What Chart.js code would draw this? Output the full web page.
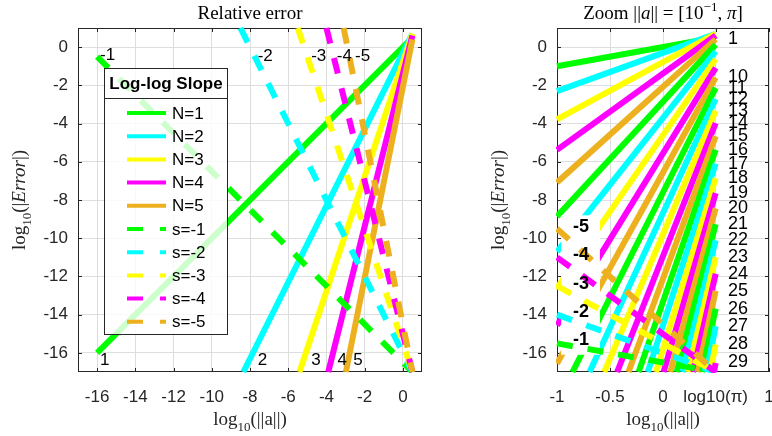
<!DOCTYPE html>
<html><head><meta charset="utf-8">
<script src="https://cdn.jsdelivr.net/npm/chart.js@4.4.1/dist/chart.umd.min.js"></script>
<style>
html,body{margin:0;padding:0;background:#fff;}
#wrap{position:relative;width:772px;height:436px;overflow:hidden;background:#fff;}
#c1{position:absolute;left:0;top:0;}
#c2{position:absolute;left:440px;top:0;}
</style></head><body>
<div id="wrap"><canvas id="c1" width="440" height="436"></canvas><canvas id="c2" width="332" height="436"></canvas></div>
<script>
// ---------------- DATA ----------------
const seriesColors = ['#00ff00', '#00ffff', '#ffff00', '#ff00ff', '#edb120'];
const LOGPI = 0.4971;

// Left panel: axis ticks
const leftXTicks = [-16, -14, -12, -10, -8, -6, -4, -2, 0];
const yTicks = [-16, -14, -12, -10, -8, -6, -4, -2, 0];

// Left panel: solid lines (slope N), endpoints
const leftN = [1, 2, 3, 4, 5];
const leftSolidX0 = [-16, -8.35, -5.41, -3.905, -2.984];
const leftSolidY0 = [-16, -17, -17, -17, -17];
const leftSolidX1 = [0.497, 0.497, 0.497, 0.497, 0.497];
const leftSolidY1 = [0.497, 0.693, 0.713, 0.608, 0.406];

// Left panel: dashed lines (slope s)
const leftS = [-1, -2, -3, -4, -5];
const leftDashX0 = [-16, -8.5, -5.5, -4.0, -3.1];
const leftDashY0 = [-0.5, 1, 1, 1, 1];
const leftDashX1 = [0.497, 0.497, 0.497, 0.497, 0.497];
const leftDashY1 = [-17, -17, -17, -17, -17];

// Left panel annotations
const leftTopLabels = ['-1', '-2', '-3', '-4', '-5'];
const leftTopX = [-15.85, -7.6, -4.8, -3.46, -2.5];
const leftTopY = [-0.42, -0.5, -0.5, -0.5, -0.5];
const leftBotLabels = ['1', '2', '3', '4', '5'];
const leftBotX = [-15.85, -7.6, -4.8, -3.42, -2.6];
const leftBotY = [-16.4, -16.4, -16.4, -16.4, -16.4];

// Right panel: axis ticks
const rightXTicks = [-1, -0.5, 0, LOGPI, 1];
const rightXTickLabels = ['-1', '-0.5', '0', 'log10(\u03c0)', '1'];

// Right panel: solid lines N = 1..29
const rightN = [1,2,3,4,5,6,7,8,9,10,11,12,13,14,15,16,17,18,19,20,21,22,23,24,25,26,27,28,29];
const rightX0 = [-1,-1,-1,-1,-1,-1,-1,-1,-1,-1,-0.854,-0.693,-0.554,-0.433,-0.326,-0.230,-0.144,-0.066,0.005,0.069,0.129,0.184,0.235,0.283,0.328,0.369,0.409,0.446,0.481];
const rightY0 = [-1,-2.30,-3.78,-5.38,-7.08,-8.86,-10.70,-12.61,-14.56,-16.56,-17,-17,-17,-17,-17,-17,-17,-17,-17,-17,-17,-17,-17,-17,-17,-17,-17,-17,-17];
const rightX1 = 0.497;
const rightY1 = [0.50,0.69,0.71,0.61,0.41,0.13,-0.22,-0.63,-1.09,-1.59,-2.13,-2.72,-3.33,-3.98,-4.66,-5.37,-6.10,-6.86,-7.64,-8.44,-9.27,-10.11,-10.98,-11.86,-12.76,-13.68,-14.61,-15.56,-16.53];

// Right panel: dashed lines s = -1..-5
const rightS = [-1, -2, -3, -4, -5];
const rightDashX0 = [-1, -1, -1, -1, -1];
const rightDashY0 = [-15.5, -14.0, -12.5, -11.0, -9.5];
const rightDashX1 = [0.497, 0.497, 0.497, 0.497, 0.497];
const rightDashY1 = [-17, -17, -17, -17, -17];

// Right panel annotations
const rightEndLabels = ['1','10','11','12','13','14','15','16','17','18','19','20','21','22','23','24','25','26','27','28','29'];
const rightEndLabelY = [0.4,-1.59,-2.13,-2.72,-3.33,-3.98,-4.66,-5.37,-6.10,-6.86,-7.64,-8.44,-9.27,-10.11,-10.98,-11.86,-12.76,-13.68,-14.61,-15.56,-16.48];
const rightEndLabelX = 0.613;
const rightSlopeLabels = ['-5', '-4', '-3', '-2', '-1'];
const rightSlopeLabelX = -0.85;
const rightSlopeLabelY = [-9.4, -10.9, -12.4, -13.85, -15.35];
const rightMaskX = [-0.96, -0.595];
const rightMaskY = [-8.8, -16.1];

// ---------------- STYLE / HELPERS ----------------
const AX = '#262626';
const GRID = '#dedede';
const SANS = '"Liberation Sans", Arial, sans-serif';
const SERIF = '"Liberation Serif", "Times New Roman", serif';
const LW = 6;
const DASH = [16, 15];

function seg(x0, y0, x1, y1) { return [{x: x0, y: y0}, {x: x1, y: y1}]; }

function buildDatasets(list) {
  const n = list.length;
  return list.map((d, i) => Object.assign({
    showLine: true, pointRadius: 0, pointHoverRadius: 0, borderWidth: LW,
    fill: false, tension: 0, clip: 1, order: n - i
  }, d));
}

function drawRich(ctx, segs, x, y, size, rot, color) {
  ctx.save();
  ctx.translate(x, y);
  if (rot) ctx.rotate(-Math.PI / 2);
  const parts = segs.map(s => {
    const small = s.sub || s.sup;
    const sz = small ? Math.round(size * 0.7) : size;
    const font = (s.it ? 'italic ' : '') + sz + 'px ' + SERIF;
    ctx.font = font;
    return {t: s.t, font, w: ctx.measureText(s.t).width, dy: s.sub ? size * 0.3 : (s.sup ? -size * 0.42 : 0)};
  });
  const total = parts.reduce((a, p) => a + p.w, 0);
  let cx = -total / 2;
  ctx.fillStyle = color || '#000';
  ctx.textBaseline = 'alphabetic';
  ctx.textAlign = 'left';
  parts.forEach(p => { ctx.font = p.font; ctx.fillText(p.t, cx, p.dy); cx += p.w; });
  ctx.restore();
}

function boxPlugin(xt, yt) {
  return {
    id: 'box',
    beforeDatasetsDraw(chart) {
      const {ctx, chartArea: a, scales} = chart;
      ctx.save();
      ctx.strokeStyle = AX; ctx.lineWidth = 1;
      ctx.strokeRect(Math.round(a.left) + 0.5, Math.round(a.top) + 0.5, Math.round(a.right - a.left) - 1, Math.round(a.bottom - a.top) - 1);
      ctx.beginPath();
      xt.forEach(v => {
        const px = Math.round(scales.x.getPixelForValue(v)) + 0.5;
        ctx.moveTo(px, a.bottom); ctx.lineTo(px, a.bottom - 4);
        ctx.moveTo(px, a.top); ctx.lineTo(px, a.top + 4);
      });
      yt.forEach(v => {
        const py = Math.round(scales.y.getPixelForValue(v)) + 0.5;
        ctx.moveTo(a.left, py); ctx.lineTo(a.left + 4, py);
        ctx.moveTo(a.right, py); ctx.lineTo(a.right - 4, py);
      });
      ctx.stroke();
      ctx.restore();
    }
  };
}

function zeroPad(s) { s.paddingLeft = 0; s.paddingRight = 0; s.paddingTop = 0; s.paddingBottom = 0; }

function scalesCfg(xMin, xMax, xt, xLabelFn, yWidth) {
  return {
    x: {
      type: 'linear', min: xMin, max: xMax,
      afterBuildTicks: s => { s.ticks = xt.map(v => ({value: v})); },
      afterFit: s => { s.height = 64; zeroPad(s); },
      ticks: {font: {family: SANS, size: 17}, color: AX, padding: 15, maxRotation: 0, minRotation: 0, autoSkip: false, callback: xLabelFn},
      grid: {color: GRID, drawTicks: false, lineWidth: 1},
      border: {display: false}
    },
    y: {
      type: 'linear', min: -17, max: 1,
      afterBuildTicks: s => { s.ticks = yTicks.map(v => ({value: v})); },
      afterFit: s => { s.width = yWidth; zeroPad(s); },
      ticks: {font: {family: SANS, size: 17}, color: AX, padding: 10, autoSkip: false, callback: v => String(v)},
      grid: {color: GRID, drawTicks: false, lineWidth: 1},
      border: {display: false}
    }
  };
}

// ---------------- LEFT CHART ----------------
const leftList = [];
leftN.forEach((n, i) => leftList.push({label: 'N=' + n, data: seg(leftSolidX0[i], leftSolidY0[i], leftSolidX1[i], leftSolidY1[i]), borderColor: seriesColors[i]}));
leftS.forEach((s, i) => leftList.push({label: 's=' + s, data: seg(leftDashX0[i], leftDashY0[i], leftDashX1[i], leftDashY1[i]), borderColor: seriesColors[i], borderDash: DASH}));

const leftDecor = {
  id: 'leftDecor',
  afterDatasetsDraw(chart) {
    const {ctx} = chart;
    // legend
    const lx0 = 104, lx1 = 228, ly0 = 68, ly1 = 335;
    ctx.save();
    ctx.fillStyle = 'rgba(255,255,255,0.8)';
    ctx.fillRect(lx0, ly0, lx1 - lx0, ly1 - ly0);
    ctx.strokeStyle = AX; ctx.lineWidth = 1;
    ctx.strokeRect(lx0 + 0.5, ly0 + 0.5, lx1 - lx0 - 1, ly1 - ly0 - 1);
    ctx.beginPath(); ctx.moveTo(lx0, 98.5); ctx.lineTo(lx1, 98.5); ctx.stroke();
    ctx.fillStyle = '#000';
    ctx.font = 'bold 17px ' + SANS; ctx.textAlign = 'center'; ctx.textBaseline = 'middle';
    ctx.fillText('Log-log Slope', (lx0 + lx1) / 2, 84);
    ctx.font = '17px ' + SANS; ctx.textAlign = 'left';
    chart.data.datasets.forEach((d, i) => {
      const y = 113 + i * 23.2;
      ctx.save();
      ctx.strokeStyle = d.borderColor; ctx.lineWidth = 4; ctx.lineCap = 'butt';
      if (d.borderDash) ctx.setLineDash([16, 17]);
      ctx.beginPath(); ctx.moveTo(127, y); ctx.lineTo(166, y); ctx.stroke();
      ctx.restore();
      ctx.fillStyle = '#000';
      ctx.fillText(d.label, 172, y + 1);
    });
    ctx.restore();
  },
  afterDraw(chart) {
    const {ctx, scales} = chart;
    ctx.save();
    ctx.fillStyle = '#000'; ctx.font = '17px ' + SANS; ctx.textAlign = 'left'; ctx.textBaseline = 'middle';
    leftTopLabels.forEach((t, i) => ctx.fillText(t, scales.x.getPixelForValue(leftTopX[i]), scales.y.getPixelForValue(leftTopY[i])));
    leftBotLabels.forEach((t, i) => ctx.fillText(t, scales.x.getPixelForValue(leftBotX[i]), scales.y.getPixelForValue(leftBotY[i])));
    ctx.restore();
    const a = chart.chartArea;
    const cx = (a.left + a.right) / 2;
    drawRich(ctx, [{t: 'Relative error'}], cx, 19, 19, false, '#000');
    drawRich(ctx, [{t: 'log'}, {t: '10', sub: true}, {t: '(||a||)'}], cx, 425, 19, false, AX);
    drawRich(ctx, [{t: 'log'}, {t: '10', sub: true}, {t: '(|'}, {t: 'Error', it: true}, {t: '|)'}], a.left - 53, (a.top + a.bottom) / 2, 19, true, AX);
  }
};

new Chart(document.getElementById('c1'), {
  type: 'scatter',
  data: {datasets: buildDatasets(leftList)},
  options: {
    responsive: false, animation: false, events: [],
    layout: {padding: {top: 28, right: 18, left: 0, bottom: 0}},
    plugins: {legend: {display: false}, tooltip: {enabled: false}, title: {display: false}},
    scales: scalesCfg(-17, 1, leftXTicks, v => String(v), 78)
  },
  plugins: [boxPlugin(leftXTicks, yTicks), leftDecor]
});

// ---------------- RIGHT CHART ----------------
const rightList = [];
rightN.forEach((n, i) => rightList.push({label: 'N=' + n, data: seg(rightX0[i], rightY0[i], rightX1, rightY1[i]), borderColor: seriesColors[i % 5]}));
const firstDash = rightList.length;
rightS.forEach((s, i) => rightList.push({label: 's=' + s, data: seg(rightDashX0[i], rightDashY0[i], rightDashX1[i], rightDashY1[i]), borderColor: seriesColors[i], borderDash: DASH}));

const rightDecor = {
  id: 'rightDecor',
  beforeDatasetDraw(chart, args) {
    if (args.index !== firstDash) return;
    const {ctx, scales} = chart;
    const x0 = scales.x.getPixelForValue(rightMaskX[0]), x1 = scales.x.getPixelForValue(rightMaskX[1]);
    const y0 = scales.y.getPixelForValue(rightMaskY[0]), y1 = scales.y.getPixelForValue(rightMaskY[1]);
    ctx.save(); ctx.fillStyle = '#fff'; ctx.fillRect(x0, y0, x1 - x0, y1 - y0); ctx.restore();
  },
  afterDraw(chart) {
    const {ctx, scales} = chart;
    ctx.save();
    ctx.fillStyle = '#000'; ctx.textAlign = 'left'; ctx.textBaseline = 'middle';
    ctx.font = '18px ' + SANS;
    rightEndLabels.forEach((t, i) => ctx.fillText(t, scales.x.getPixelForValue(rightEndLabelX), scales.y.getPixelForValue(rightEndLabelY[i])));
    ctx.font = 'bold 18px ' + SANS;
    rightSlopeLabels.forEach((t, i) => ctx.fillText(t, scales.x.getPixelForValue(rightSlopeLabelX), scales.y.getPixelForValue(rightSlopeLabelY[i])));
    ctx.restore();
    const a = chart.chartArea;
    const cx = (a.left + a.right) / 2;
    drawRich(ctx, [{t: 'Zoom ||'}, {t: 'a', it: true}, {t: '|| = [10'}, {t: '\u22121', sup: true}, {t: ', '}, {t: '\u03c0', it: true}, {t: ']'}], cx, 19, 19, false, '#000');
    drawRich(ctx, [{t: 'log'}, {t: '10', sub: true}, {t: '(||a||)'}], cx, 425, 19, false, AX);
    drawRich(ctx, [{t: 'log'}, {t: '10', sub: true}, {t: '(|'}, {t: 'Error', it: true}, {t: '|)'}], a.left - 53, (a.top + a.bottom) / 2, 19, true, AX);
  }
};

new Chart(document.getElementById('c2'), {
  type: 'scatter',
  data: {datasets: buildDatasets(rightList)},
  options: {
    responsive: false, animation: false, events: [],
    layout: {padding: {top: 28, right: 3, left: 0, bottom: 0}},
    plugins: {legend: {display: false}, tooltip: {enabled: false}, title: {display: false}},
    scales: scalesCfg(-1, 1, rightXTicks, v => { const i = rightXTicks.indexOf(v); return i >= 0 ? rightXTickLabels[i] : ''; }, 117)
  },
  plugins: [boxPlugin(rightXTicks, yTicks), rightDecor]
});
</script></body></html>
